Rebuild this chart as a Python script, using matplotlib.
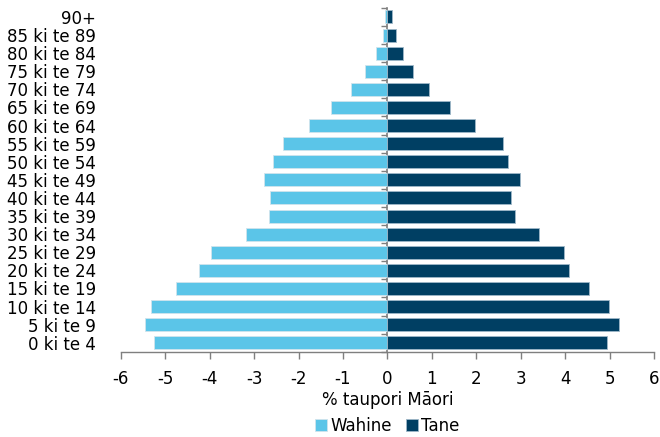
#!/usr/bin/env python3
"""Population pyramid: % taupori Māori by age group, Wahine vs Tane."""

import matplotlib

matplotlib.use("Agg")
import matplotlib.pyplot as plt
import numpy as np

AGE_GROUPS = [
    "0 ki te 4", "5 ki te 9", "10 ki te 14", "15 ki te 19", "20 ki te 24",
    "25 ki te 29", "30 ki te 34", "35 ki te 39", "40 ki te 44", "45 ki te 49",
    "50 ki te 54", "55 ki te 59", "60 ki te 64", "65 ki te 69", "70 ki te 74",
    "75 ki te 79", "80 ki te 84", "85 ki te 89", "90+",
]
WAHINE = [5.25, 5.46, 5.31, 4.76, 4.24, 3.97, 3.18, 2.67, 2.64, 2.78,
          2.58, 2.34, 1.77, 1.26, 0.82, 0.50, 0.26, 0.11, 0.05]
TANE = [4.93, 5.20, 4.99, 4.54, 4.09, 3.97, 3.41, 2.87, 2.78, 2.99,
        2.72, 2.60, 1.98, 1.41, 0.94, 0.58, 0.34, 0.20, 0.10]
X_TICKS = [-6, -5, -4, -3, -2, -1, 0, 1, 2, 3, 4, 5, 6]

C_WAHINE = "#5bc5e8"
C_TANE = "#003f63"
AXIS_GREY = "#7f7f7f"
FS = 12

plt.rcParams["font.family"] = "DejaVu Sans"
plt.rcParams["axes.unicode_minus"] = False

fig = plt.figure(figsize=(6.6, 4.37), dpi=100)
ax = fig.add_axes([0.183, 0.195, 0.808, 0.787])

y = np.arange(len(AGE_GROUPS))
ax.barh(y, -np.array(WAHINE), height=0.72, color=C_WAHINE,
        edgecolor="#d0e4ec", linewidth=0.6, label="Wahine")
ax.barh(y, TANE, height=0.72, color=C_TANE,
        edgecolor="#9fb8c8", linewidth=0.6, label="Tane")

ax.set_xlim(-6, 6)
ax.set_ylim(-0.5, len(AGE_GROUPS) - 0.5)
ax.set_xticks(X_TICKS)
ax.set_xticklabels([str(t) for t in X_TICKS], fontsize=FS)
ax.set_yticks(y)
ax.set_yticklabels(AGE_GROUPS, fontsize=FS)
ax.tick_params(axis="y", length=0, pad=18)
ax.tick_params(axis="x", length=5, color=AXIS_GREY, width=1, pad=8)

for side in ("top", "right", "left"):
    ax.spines[side].set_visible(False)
ax.spines["bottom"].set_color(AXIS_GREY)
ax.spines["bottom"].set_linewidth(1)

# vertical axis at zero with category-boundary ticks pointing left
sec = ax.secondary_yaxis(0.5)
sec.set_yticks(np.arange(len(AGE_GROUPS) + 1) - 0.5)
sec.set_yticklabels([])
sec.tick_params(length=4, color=AXIS_GREY, width=1, direction="in")
for sp in sec.spines.values():
    sp.set_color(AXIS_GREY)
    sp.set_linewidth(1.2)

ax.set_xlabel("% taupori Māori", fontsize=FS, labelpad=2)

ax.legend(loc="upper center", bbox_to_anchor=(0.5, -0.17), ncol=2,
          frameon=False, fontsize=FS, handlelength=0.75, handleheight=0.75,
          handletextpad=0.2, columnspacing=0.8, borderaxespad=0)

fig.savefig("out.png", dpi=100)
